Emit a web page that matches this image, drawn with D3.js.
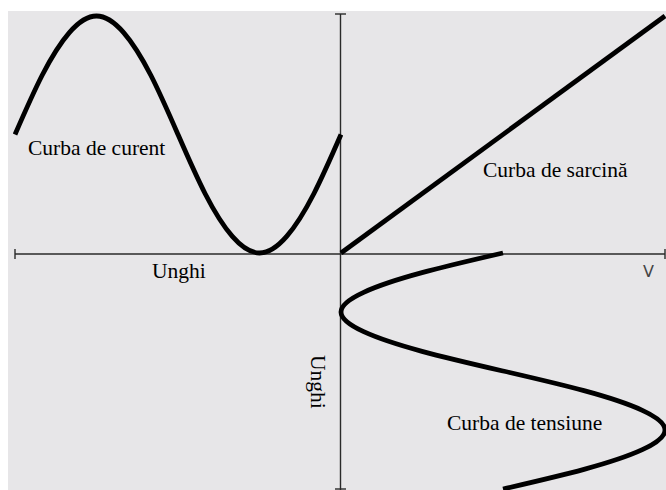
<!DOCTYPE html>
<html>
<head>
<meta charset="utf-8">
<script src="https://cdn.jsdelivr.net/npm/d3@7"></script>
<style>
  html, body { margin: 0; padding: 0; background: #fff; }
  svg { display: block; }
</style>
</head>
<body>
<div id="chart"></div>
<script>
// *** Load line diagram: current / voltage vs angle ***

// angle samples (degrees), shared by both waveforms
let angles = [0, 30, 60, 90, 120, 150, 180, 210, 240, 270, 300, 330, 360];
// current
let currentValues = [5, 2.5, 0.7, 0, 0.7, 2.5, 5, 7.5, 9.3, 10, 9.3, 7.5, 5];
// voltage
let voltageValues = [5, 2.5, 0.7, 0, 0.7, 2.5, 5, 7.5, 9.3, 10, 9.3, 7.5, 5];
// load line (V, I) end points
let loadVoltage = [0, 10];
let loadCurrent = [0, 10];

let labelTexts = ["Curba de curent", "Curba de sarcină", "Curba de tensiune", "Unghi", "Unghi", "V"];

let svgWidth = 666;
let svgHeight = 490;

let svg = d3.select("#chart")
    .append("svg")
    .attr("width", svgWidth)
    .attr("height", svgHeight);

// grey plot background
svg.append("rect")
    .attr("x", 8)
    .attr("y", 11)
    .attr("width", svgWidth - 8)
    .attr("height", svgHeight - 11)
    .attr("fill", "#e7e6e8");

// scales - angle goes left on the top half and down on the bottom half
let xAngle = d3.scaleLinear().domain([0, 360]).range([341, 15]);
let xVolt = d3.scaleLinear().domain([0, 10]).range([341, 665]);
let yCurrent = d3.scaleLinear().domain([0, 10]).range([253, 16]);
let yAngle = d3.scaleLinear().domain([0, 360]).range([253, 489]);

// axes (no tick labels, only end caps)
let axisColor = "#2a2a2a";
let x0 = 340.5, y0 = 254;
let axes = svg.append("g")
    .attr("stroke", axisColor)
    .attr("stroke-width", 1.4)
    .attr("fill", "none");

axes.append("line")
    .attr("x1", xAngle(360)).attr("x2", xVolt(10))
    .attr("y1", y0).attr("y2", y0);
axes.append("line")
    .attr("x1", x0).attr("x2", x0)
    .attr("y1", 14).attr("y2", yAngle(360) + 1);

// end caps
[xAngle(360), xVolt(10)].forEach(function(x) {
    axes.append("line")
        .attr("x1", x).attr("x2", x)
        .attr("y1", y0 - 5).attr("y2", y0 + 5);
});
[14, yAngle(360)].forEach(function(y) {
    axes.append("line")
        .attr("x1", x0 - 5.5).attr("x2", x0 + 5.5)
        .attr("y1", y).attr("y2", y);
});

let curveStyle = function(sel) {
    sel.attr("fill", "none")
        .attr("stroke", "#000")
        .attr("stroke-width", 4.8);
};

// current curve (angle on x, current on y)
let currentLine = d3.line()
    .x(d => xAngle(d[0]))
    .y(d => yCurrent(d[1]))
    .curve(d3.curveNatural);

svg.append("path")
    .datum(d3.zip(angles, currentValues))
    .attr("d", currentLine)
    .call(curveStyle);

// voltage curve (voltage on x, angle on y)
let voltageLine = d3.line()
    .x(d => xVolt(d[1]))
    .y(d => yAngle(d[0]))
    .curve(d3.curveNatural);

svg.append("path")
    .datum(d3.zip(angles, voltageValues))
    .attr("d", voltageLine)
    .call(curveStyle);

// load line
let loadLine = d3.line()
    .x(d => xVolt(d[0]))
    .y(d => yCurrent(d[1]));

svg.append("path")
    .datum(d3.zip(loadVoltage, loadCurrent))
    .attr("d", loadLine)
    .call(curveStyle);

// labels
let labelPos = [
    { x: 28, y: 155, rot: 0 },
    { x: 483, y: 177, rot: 0 },
    { x: 447, y: 430, rot: 0 },
    { x: 152, y: 278, rot: 0 },
    { x: 311, y: 355, rot: 90 }
];

labelPos.forEach(function(p, i) {
    svg.append("text")
        .attr("transform", `translate(${p.x},${p.y}) rotate(${p.rot})`)
        .attr("font-family", "'Liberation Serif', 'Times New Roman', serif")
        .attr("font-size", "21.5px")
        .attr("fill", "#000")
        .text(labelTexts[i]);
});

svg.append("text")
    .attr("x", 643)
    .attr("y", 277)
    .attr("font-family", "'DejaVu Sans', sans-serif")
    .attr("font-size", "16px")
    .attr("fill", "#444")
    .text(labelTexts[5]);
</script>
</body>
</html>
